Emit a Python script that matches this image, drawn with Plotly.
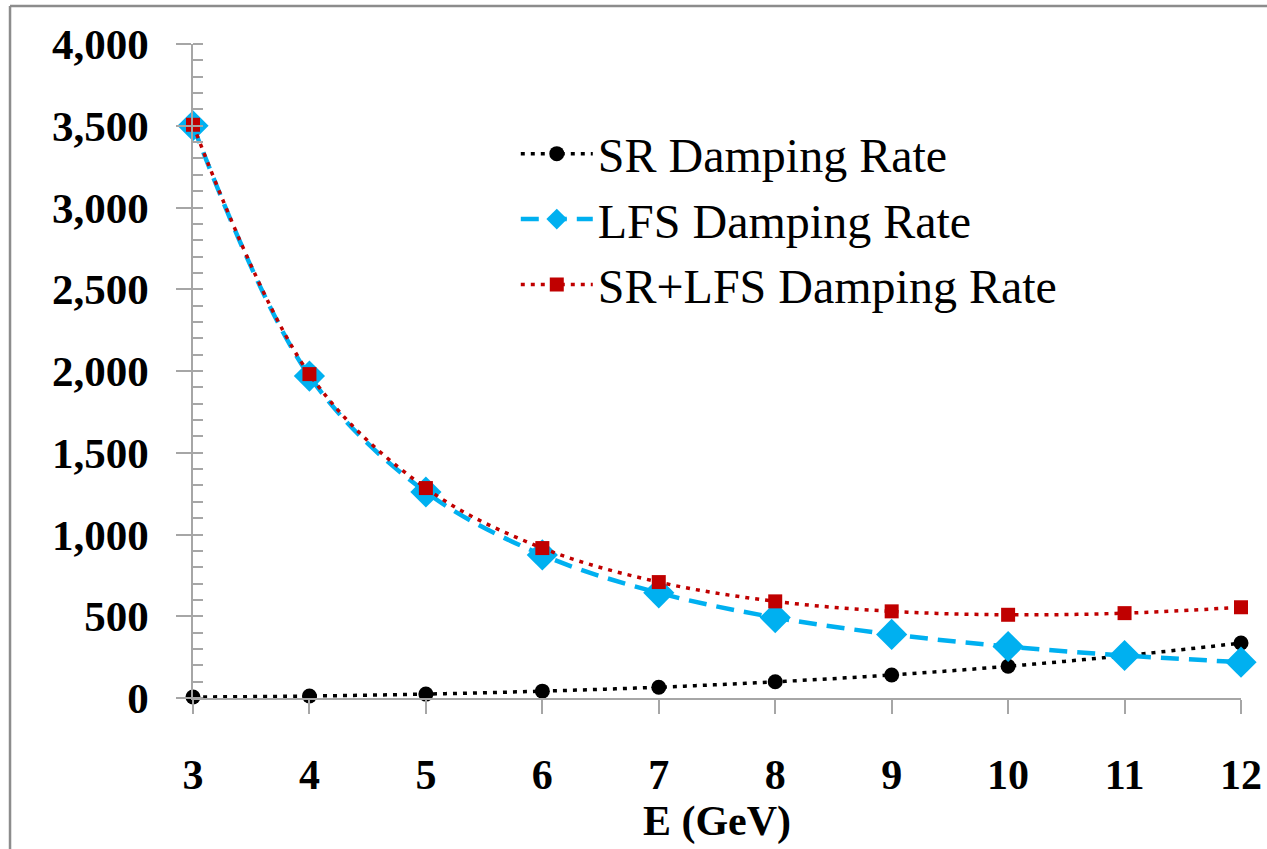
import plotly.graph_objects as go

energy = [3, 4, 5, 6, 7, 8, 9, 10, 11, 12]
sr_rate = [6, 12, 24, 42, 66, 99, 141, 194, 259, 336]
lfs_rate = [3500, 1969, 1260, 875, 643, 492, 389, 315, 260, 219]
sum_rate = [3506, 1981, 1284, 917, 709, 591, 530, 509, 519, 555]

names = ["SR Damping Rate", "LFS Damping Rate", "SR+LFS Damping Rate"]
y_ticks = [0, 500, 1000, 1500, 2000, 2500, 3000, 3500, 4000]
y_ticktext = ["0", "500", "1,000", "1,500", "2,000", "2,500", "3,000", "3,500", "4,000"]

FONT = "Liberation Serif"
AX = "#a6a6a6"

fig = go.Figure()
fig.add_trace(go.Scatter(
    x=energy, y=sr_rate, name=names[0], mode="lines+markers",
    line=dict(color="black", width=3.5, dash="4px,6px", shape="spline"),
    marker=dict(symbol="circle", size=15, color="black"),
    cliponaxis=False))
fig.add_trace(go.Scatter(
    x=energy, y=lfs_rate, name=names[1], mode="lines+markers",
    line=dict(color="#00B0F0", width=4.5, dash="18px,10px", shape="spline"),
    marker=dict(symbol="diamond", size=24, color="#00B0F0"),
    cliponaxis=False))
fig.add_trace(go.Scatter(
    x=energy, y=sum_rate, name=names[2], mode="lines+markers",
    line=dict(color="#C00000", width=3.5, dash="4px,6px", shape="spline"),
    marker=dict(symbol="square", size=14, color="#C00000"),
    cliponaxis=False))

# invisible trace to hold the inner major ticks on the overlay axis
fig.add_trace(go.Scatter(x=[3], y=[0], yaxis="y2", showlegend=False,
                         mode="markers", marker=dict(opacity=0), hoverinfo="skip"))

fig.update_layout(
    width=1267, height=849,
    margin=dict(l=193, r=26, t=44, b=151, autoexpand=False),
    paper_bgcolor="white", plot_bgcolor="white",
    font=dict(family=FONT, color="black"),
    showlegend=True,
    legend=dict(x=0.308, y=0.89, xanchor="left", yanchor="top",
                font=dict(family=FONT, size=48, color="black"),
                bgcolor="rgba(0,0,0,0)", itemwidth=72, tracegroupgap=0),
    xaxis=dict(range=[3, 12], tickvals=energy, showgrid=False, zeroline=False,
               automargin=False,
               showline=True, linecolor=AX, linewidth=1.5,
               ticks="outside", ticklen=14, tickcolor=AX, tickwidth=1.5,
               tickfont=dict(family=FONT, size=42, color="black", weight="bold"),
               ticklabelstandoff=25,
               title=dict(text="<b>E (GeV)</b>", font=dict(family=FONT, size=42, color="black"),
                          standoff=0)),
    yaxis=dict(range=[0, 4000], tickvals=y_ticks, ticktext=y_ticktext,
               showgrid=False, zeroline=False, automargin=False,
               showline=True, linecolor=AX, linewidth=1.5,
               ticks="outside", ticklen=15, tickcolor=AX, tickwidth=1.5,
               tickfont=dict(family=FONT, size=43, color="black", weight="bold"),
               ticklabelstandoff=19,
               minor=dict(dtick=100, ticks="inside", ticklen=10, tickcolor=AX, tickwidth=1.5)),
    yaxis2=dict(range=[0, 4000], overlaying="y", side="left", anchor="x",
                tickvals=y_ticks, showticklabels=False, showgrid=False, zeroline=False,
                automargin=False,
                showline=False, ticks="inside", ticklen=10, tickcolor=AX, tickwidth=1.5),
    shapes=[
        dict(type="line", xref="paper", yref="paper", x0=-0.1746, x1=1.03, y0=1.058, y1=1.058,
             line=dict(color="#8c8c8c", width=2.5)),
        dict(type="line", xref="paper", yref="paper", x0=-0.1746, x1=-0.1746, y0=1.058, y1=-0.24,
             line=dict(color="#8c8c8c", width=2.5)),
    ],
)

fig.write_html("out.html",
               config={"displayModeBar": False},
               post_script="document.body.style.margin='0';document.body.style.overflow='hidden';")
